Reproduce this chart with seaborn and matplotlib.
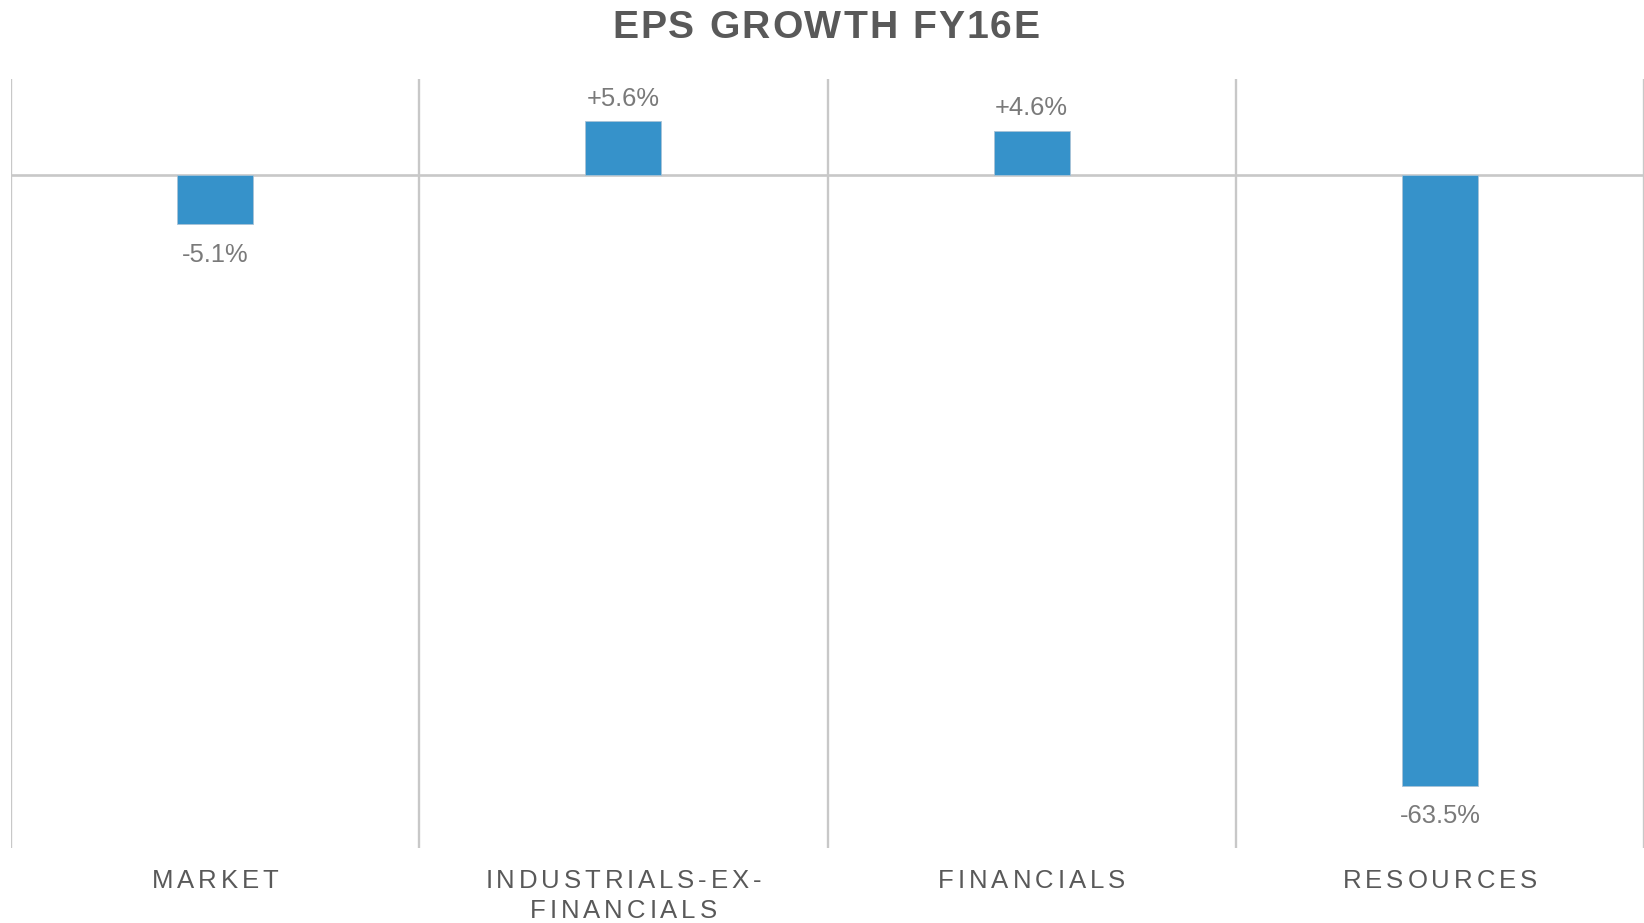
import numpy as np
import pandas as pd
import matplotlib
matplotlib.use("Agg")
import matplotlib.pyplot as plt
import seaborn as sns
from matplotlib.text import Text
from matplotlib.transforms import IdentityTransform
from matplotlib.font_manager import findfont
from matplotlib.ft2font import FT2Font

try:
    from matplotlib.ft2font import LoadFlags
    _NO_HINT = LoadFlags.NO_HINTING
except ImportError:  # older matplotlib
    from matplotlib.ft2font import LOAD_NO_HINTING as _NO_HINT

# ---- data ----
categories = ["MARKET", "INDUSTRIALS-EX-\nFINANCIALS", "FINANCIALS", "RESOURCES"]
eps_growth = [-5.1, 5.6, 4.6, -63.5]
title_text = "EPS GROWTH FY16E"

BAR_COLOR = "#3692CA"
GRID_COLOR = "#c8c8c8"
LABEL_COLOR = "#595959"
VALUE_COLOR = "#7a7a7a"

W, H, DPI = 1644, 923, 100


class TrackedText(Text):
    """Text drawn with extra letter spacing (tracking, in pixels)."""

    def __init__(self, x, y, text, tracking=0.0, line_gap=30.0, **kw):
        super().__init__(x, y, text, **kw)
        self._tracking = tracking
        self._line_gap = line_gap

    def draw(self, renderer):
        if not self.get_visible():
            return
        prop = self.get_fontproperties()
        font = FT2Font(findfont(prop))
        font.set_size(prop.get_size_in_points(), renderer.dpi)
        bx, by = self.get_transform().transform(self.get_position())
        for k, line in enumerate(self.get_text().split("\n")):
            adv = [font.load_char(ord(c), flags=_NO_HINT).linearHoriAdvance / 65536
                   for c in line]
            total = sum(adv) + self._tracking * (len(line) - 1)
            x = bx - total / 2.0
            y = by - k * self._line_gap
            for c, a in zip(line, adv):
                t = Text(x, y, c, fontproperties=prop, color=self.get_color(),
                         ha="left", va="baseline", transform=IdentityTransform())
                t.set_figure(self.figure)
                t.draw(renderer)
                x += a + self._tracking


sns.set_theme(style="white")
plt.rcParams["font.family"] = ["Liberation Sans", "DejaVu Sans"]

df = pd.DataFrame({"category": categories, "eps": eps_growth})

fig = plt.figure(figsize=(W / DPI, H / DPI), dpi=DPI)
fig.patch.set_facecolor("white")
ax_left, ax_right, ax_top, ax_bottom = 11, 1644, 79, 848
ax = fig.add_axes([ax_left / W, (H - ax_bottom) / H,
                   (ax_right - ax_left) / W, (ax_bottom - ax_top) / H])

sns.barplot(data=df, x="category", y="eps", color=BAR_COLOR, saturation=1,
            width=0.186, errorbar=None, ax=ax, zorder=3,
            edgecolor="#a9c3d6", linewidth=0.6)

ax.set_xlim(-0.5, len(categories) - 0.5)
ax.set_ylim(-70, 10)
for s in ax.spines.values():
    s.set_visible(False)
ax.set_xlabel("")
ax.set_ylabel("")
ax.set_yticks([])
ax.set_xticks(range(len(categories)))
ax.set_xticklabels([])
ax.tick_params(axis="both", length=0)

# category separators and zero line
ax.set_xticks(np.arange(-0.5, len(categories), 1.0), minor=True)
ax.grid(False)
ax.grid(which="minor", axis="x", color=GRID_COLOR, linewidth=1.7, zorder=1)
ax.tick_params(which="minor", length=0)
ax.axhline(0, color=GRID_COLOR, linewidth=1.9, zorder=2)

# value labels
for i, v in enumerate(eps_growth):
    off = 15.5 if v >= 0 else -37.5
    ax.annotate(f"{v:+.1f}%", xy=(i, v), xytext=(0, off),
                textcoords="offset pixels", ha="center", va="baseline",
                fontsize=18.4, color=VALUE_COLOR)

# category labels with letter spacing
axis_h = ax_bottom - ax_top
for i, cat in enumerate(categories):
    lab = TrackedText(i, -40.5 / axis_h, cat, tracking=3.9, line_gap=29.6,
                      transform=ax.get_xaxis_transform(), fontsize=18.5,
                      color=LABEL_COLOR, ha="center", va="baseline")
    ax.add_artist(lab)
    lab.set_clip_on(False)

# title
title = TrackedText(826 / W, 1 - 38 / H, title_text, tracking=2.0,
                    transform=fig.transFigure, fontsize=28.2, fontweight="bold",
                    color=LABEL_COLOR, ha="center", va="baseline")
fig.add_artist(title)

fig.savefig("out.png", dpi=DPI, facecolor="white")
